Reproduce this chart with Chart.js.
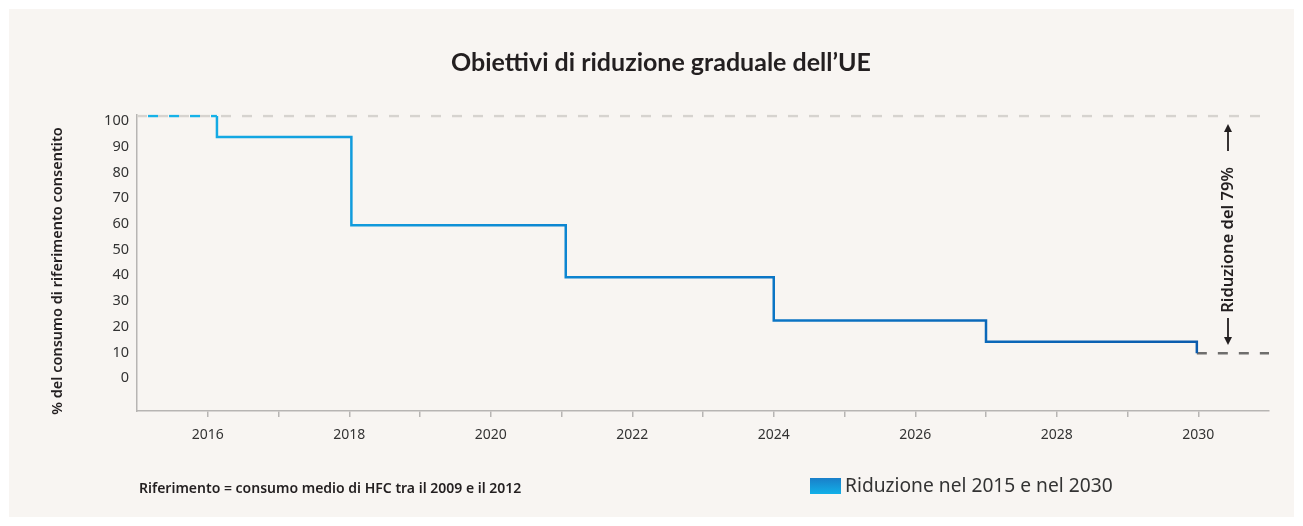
<!DOCTYPE html>
<html lang="it">
<head>
<meta charset="utf-8">
<title>Obiettivi di riduzione graduale dell'UE</title>
<script src="https://cdn.jsdelivr.net/npm/chart.js@4.4.1/dist/chart.umd.min.js"></script>
<style>
  html, body { margin: 0; background: #fff; }
  #panel { position: absolute; left: 9px; top: 9px; width: 1285px; height: 508px; background: #f8f5f2; }
  #chart { position: absolute; left: 0; top: 0; }
</style>
</head>
<body>
<div id="panel"></div>
<canvas id="chart" width="1303" height="526"></canvas>
<script>
// phase-down steps: year the cap changes, and the allowed share of the baseline
const stepYears = [2015, 2016.13, 2018.03, 2021.06, 2024, 2027, 2029.98];
const stepLevels = [102, 93.8, 59.5, 39.2, 22.4, 14.1, 9.7];

const startLevel = 102;   // baseline reference line
const endYear = 2031;
const yTicks = [0, 10, 20, 30, 40, 50, 60, 70, 80, 90, 100];
const xTicks = [2016, 2017, 2018, 2019, 2020, 2021, 2022, 2023, 2024, 2025, 2026, 2027, 2028, 2029, 2030];

const titleText = 'Obiettivi di riduzione graduale dell\u2019UE';
const yTitleText = '% del consumo di riferimento consentito';
const noteText = 'Riferimento = consumo medio di HFC tra il 2009 e il 2012';
const legendText = 'Riduzione nel 2015 e nel 2030';
const reductionText = 'Riduzione del 79%';

const CYAN = '#16b2e8';
const DARK_BLUE = '#0b57a9';
const INK = '#231f20';
const AXIS = '#b7b5b3';

let lineGradient = null;
function stepColor(context) {
  const { chart } = context;
  const area = chart.chartArea;
  if (!area) return CYAN;
  if (!lineGradient) {
    lineGradient = chart.ctx.createLinearGradient(area.left, 0, area.right, 0);
    lineGradient.addColorStop(0, CYAN);
    lineGradient.addColorStop(0.45, '#0b7dcc');
    lineGradient.addColorStop(1, DARK_BLUE);
  }
  return lineGradient;
}

const stepPoints = stepYears.slice(1).map((x, i) => ({ x, y: stepLevels[i + 1] }));
stepPoints.unshift({ x: stepYears[1], y: stepLevels[0] });

const lastYear = stepYears[stepYears.length - 1];
const lastLevel = stepLevels[stepLevels.length - 1];

// text, arrows and legend drawn around the plot
const annotations = {
  id: 'annotations',
  afterDraw(chart) {
    const ctx = chart.ctx;
    ctx.save();
    ctx.fillStyle = INK;
    ctx.textBaseline = 'middle';

    ctx.textAlign = 'center';
    ctx.font = '700 25px Lato';
    ctx.fillText(titleText, 661, 63);

    ctx.save();
    ctx.translate(58, 271);
    ctx.rotate(-Math.PI / 2);
    ctx.font = '600 14.5px "Noto Sans"';
    ctx.fillText(yTitleText, 0, 0);
    ctx.restore();

    ctx.textAlign = 'left';
    ctx.font = '600 14px "Noto Sans"';
    ctx.fillText(noteText, 139, 489);

    const box = ctx.createLinearGradient(0, 478, 0, 494);
    box.addColorStop(0, '#1a7fc9');
    box.addColorStop(1, '#12b0e8');
    ctx.fillStyle = box;
    ctx.fillRect(810, 478, 31, 16);
    ctx.fillStyle = '#333';
    ctx.font = '400 19.2px "Noto Sans"';
    ctx.fillText(legendText, 845, 487);

    // 79% reduction marker
    const ax = 1228;
    ctx.fillStyle = INK;
    ctx.save();
    ctx.translate(ax, 240);
    ctx.rotate(-Math.PI / 2);
    ctx.textAlign = 'center';
    ctx.font = '600 16.5px "Noto Sans"';
    ctx.fillText(reductionText, 0, 0);
    ctx.restore();

    ctx.strokeStyle = INK;
    ctx.lineWidth = 1.8;
    ctx.beginPath();
    ctx.moveTo(ax, 151); ctx.lineTo(ax, 128);
    ctx.moveTo(ax, 318); ctx.lineTo(ax, 341);
    ctx.stroke();
    ctx.beginPath();
    ctx.moveTo(ax, 124); ctx.lineTo(ax - 4, 132); ctx.lineTo(ax + 4, 132); ctx.closePath();
    ctx.moveTo(ax, 345); ctx.lineTo(ax - 4, 337); ctx.lineTo(ax + 4, 337); ctx.closePath();
    ctx.fill();
    ctx.restore();
  }
};

new Chart(document.getElementById('chart'), {
  type: 'line',
  data: {
    datasets: [
      {
        // 2015 level, dashed
        data: [{ x: stepYears[0], y: stepLevels[0] }, { x: stepYears[1], y: stepLevels[0] }],
        borderColor: CYAN,
        borderWidth: 2.5,
        borderDash: [10, 11],
        borderDashOffset: 10,
        pointRadius: 0,
        order: 0
      },
      {
        data: stepPoints,
        stepped: true,
        borderColor: stepColor,
        borderWidth: 2.5,
        pointRadius: 0,
        order: 1
      },
      {
        data: [{ x: lastYear, y: lastLevel }, { x: endYear, y: lastLevel }],
        borderColor: '#6f6e6d',
        borderWidth: 2.5,
        borderDash: [10, 11],
        pointRadius: 0,
        order: 2
      },
      {
        data: [{ x: stepYears[0], y: startLevel }, { x: endYear, y: startLevel }],
        borderColor: '#d6d3cf',
        borderWidth: 2.5,
        borderDash: [10, 11],
        pointRadius: 0,
        order: 3
      }
    ]
  },
  options: {
    responsive: false,
    animation: false,
    layout: { padding: { left: 0, top: 114.6, right: 34, bottom: 65 } },
    plugins: {
      legend: { display: false },
      tooltip: { enabled: false }
    },
    scales: {
      x: {
        type: 'linear',
        min: 2015,
        max: endYear,
        afterBuildTicks: scale => { scale.ticks = xTicks.map(value => ({ value })); },
        afterFit: scale => { scale.height = 50; },
        grid: { display: true, drawOnChartArea: false, drawTicks: true, tickLength: 6, color: AXIS, lineWidth: 1.5 },
        border: { display: true, color: AXIS, width: 1.5 },
        ticks: {
          autoSkip: false,
          maxRotation: 0,
          padding: 10,
          color: '#333',
          font: { family: 'Noto Sans', size: 14 },
          callback: value => (value % 2 === 0 ? String(value) : '')
        }
      },
      y: {
        min: -12.8,
        max: 102.5,
        afterBuildTicks: scale => { scale.ticks = yTicks.map(value => ({ value })); },
        afterFit: scale => { scale.width = 137; },
        grid: { display: false, drawTicks: false },
        border: { display: true, color: AXIS, width: 1.5 },
        ticks: {
          padding: 8,
          color: '#333',
          font: { family: 'Noto Sans', size: 14.5 }
        }
      }
    }
  },
  plugins: [annotations]
});
</script>
</body>
</html>
